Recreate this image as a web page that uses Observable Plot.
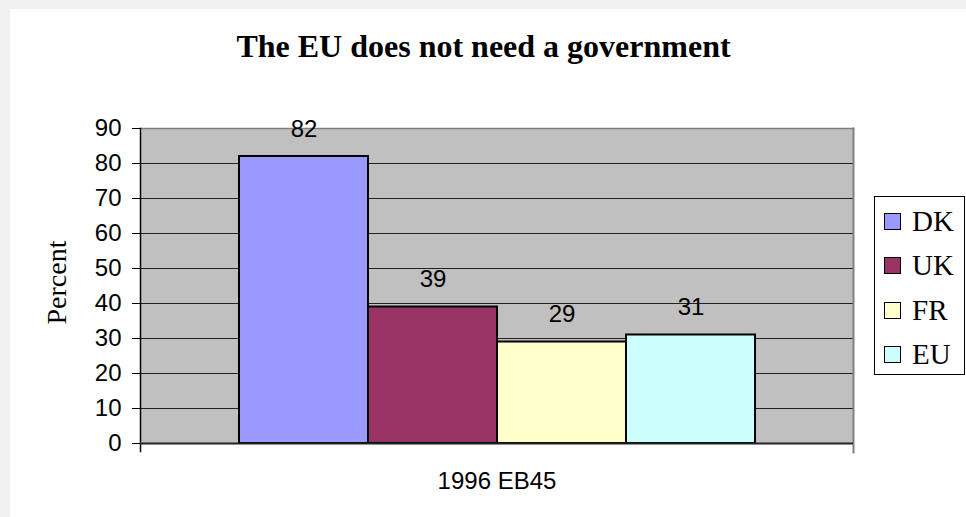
<!DOCTYPE html>
<html>
<head>
<meta charset="utf-8">
<script src="https://cdn.jsdelivr.net/npm/d3@7"></script>
<script src="https://cdn.jsdelivr.net/npm/@observablehq/plot@0.6"></script>
<style>
  html, body { margin: 0; padding: 0; width: 966px; height: 517px; overflow: hidden; background: #f0f0f0; }
  #panel { position: absolute; left: 10px; top: 9px; width: 956px; height: 508px; background: #fff; }
  #title { position: absolute; left: 0; top: 30px; width: 967px; text-align: center;
           font-family: "Liberation Serif", "Times New Roman", serif; font-weight: bold; font-size: 32px; line-height: 32px; color: #000; }
  #chart { position: absolute; left: 0; top: 100px; }
  #legend { position: absolute; left: 874px; top: 196px; width: 91px; height: 179px; box-sizing: border-box;
            border: 1px solid #000; background: #fff; padding-top: 2px; }
  .item { display: flex; align-items: center; height: 44.5px; }
  .sw { box-sizing: border-box; width: 17px; height: 17px; border: 1.5px solid #000; margin-left: 9px; margin-right: 11px; }
  .lab { font-family: "Liberation Serif", "Times New Roman", serif; font-size: 29px; line-height: 29px; color: #000; }
</style>
</head>
<body>
<div id="panel"></div>
<div id="title"></div>
<div id="chart"></div>
<div id="legend"></div>
<script>
const titleText = "The EU does not need a government";
const yLabel = "Percent";
const periods = ["1996 EB45"];
const countries = ["DK", "UK", "FR", "EU"];
const values = [82, 39, 29, 31];
const colors = ["#9999ff", "#993366", "#ffffcc", "#ccffff"];
const yTicks = [0, 10, 20, 30, 40, 50, 60, 70, 80, 90];

const rows = countries.map((c, i) => ({period: periods[0], country: c, value: values[i]}));

document.getElementById("title").textContent = titleText;

const plot = Plot.plot({
  width: 870,
  height: 417,
  marginLeft: 140,
  marginRight: 17,
  marginTop: 28,
  marginBottom: 74,
  style: {background: "transparent", overflow: "visible", fontFamily: "'Liberation Sans', Arial, sans-serif", color: "#000"},
  fx: {domain: periods, padding: 0, label: null},
  x: {domain: countries, paddingInner: 0, paddingOuter: 0.76, axis: null},
  y: {domain: [0, 90], label: null},
  color: {domain: countries, range: colors},
  marks: [
    Plot.frame({fill: "#c0c0c0"}),
    Plot.gridY(yTicks, {stroke: "#222", strokeOpacity: 1, strokeWidth: 1}),
    Plot.frame({anchor: "top", stroke: "#808080", strokeWidth: 1.5}),
    Plot.frame({anchor: "right", stroke: "#808080", strokeWidth: 2, insetBottom: -9}),
    Plot.frame({anchor: "left", stroke: "#000", strokeWidth: 1.5, insetBottom: -8}),
    Plot.barY(rows, {fx: "period", x: "country", y: "value", fill: "country", stroke: "#000", strokeWidth: 2}),
    Plot.ruleY([0], {stroke: "#222", strokeWidth: 2}),
    Plot.text(rows, {fx: "period", x: "country", y: "value", text: d => String(d.value), dy: -20, lineAnchor: "bottom", fontSize: 24, fill: "#000"}),
    Plot.axisY({ticks: yTicks, tickSize: 8, tickPadding: 11, fontSize: 24, label: null, stroke: "#000"}),
    Plot.axisFx({anchor: "bottom", tickSize: 0, tickPadding: 28, fontSize: 24, label: null}),
    Plot.text([yLabel], {frameAnchor: "left", rotate: -90, dx: -75, dy: -3.5, lineAnchor: "bottom", textAnchor: "middle",
      fontFamily: "'Liberation Serif', 'Times New Roman', serif", fontSize: 28, fill: "#000"})
  ]
});
document.getElementById("chart").appendChild(plot);

const legend = document.getElementById("legend");
countries.forEach((c, i) => {
  const item = document.createElement("div");
  item.className = "item";
  const sw = document.createElement("div");
  sw.className = "sw";
  sw.style.background = colors[i];
  const lab = document.createElement("span");
  lab.className = "lab";
  lab.textContent = c;
  item.appendChild(sw);
  item.appendChild(lab);
  legend.appendChild(item);
});
</script>
</body>
</html>
